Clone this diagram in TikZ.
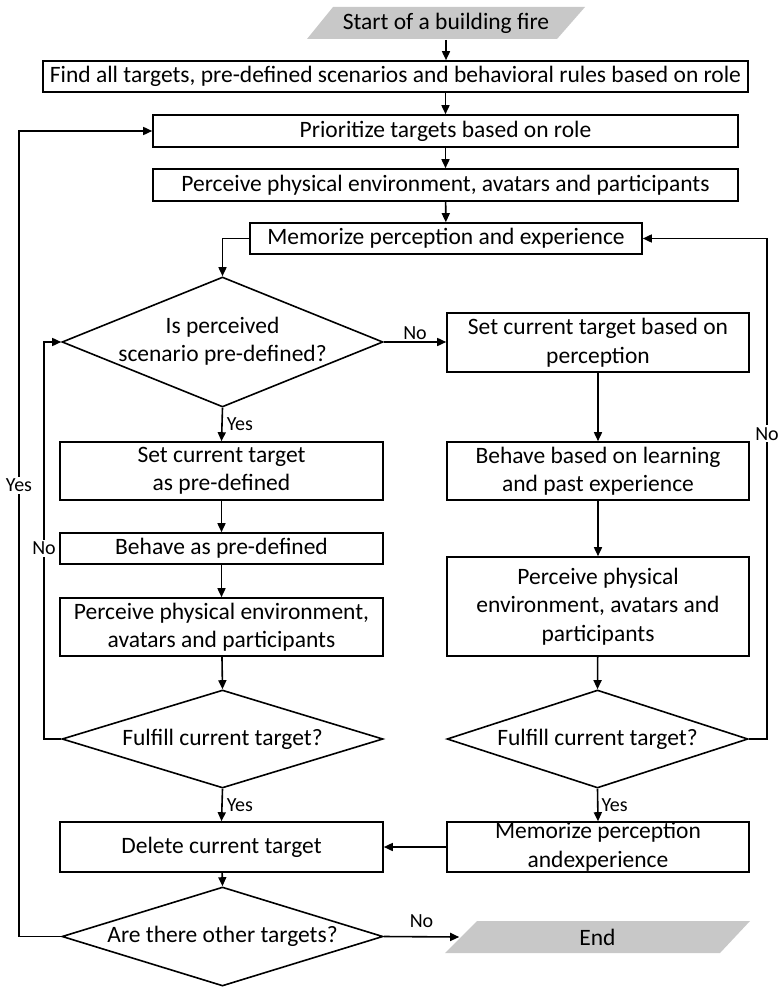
\documentclass[tikz,border=0pt]{standalone}
\usepackage{fontspec}
\setmainfont{Carlito}
\usepackage{tikz}
\usetikzlibrary{arrows.meta, shapes.geometric, positioning}
\definecolor{termgray}{RGB}{200, 200, 200}

\begin{document}
\begin{tikzpicture}[x=1pt, y=-1pt, line width=1.6pt,
    every node/.style={font=\fontsize{23.5}{28.5}\selectfont},
    procbox/.style={draw, rectangle, align=center, inner sep=0pt},
    decision/.style={draw, diamond, inner sep=0pt},
    terminal/.style={rectangle, inner sep=0pt},
    arr/.style={-{Triangle[length=9pt, width=8pt]}},
    lbl/.style={font=\fontsize{20}{24}\selectfont, inner sep=2pt}]
    \useasboundingbox (0,0) rectangle (780,987);

    % Start and the main column
    \fill[termgray] (307, 39) -- (557, 39) -- (585, 7) -- (333, 7) -- cycle;
    \node[terminal, minimum width=252pt, minimum height=32pt] (start) at (446, 23) {Start of a building fire};
    \node[procbox, minimum width=705pt, minimum height=31pt] (find) at (395.5, 76.5)
         {Find all targets, pre-defined scenarios and behavioral rules based on role};
    \node[procbox, minimum width=585pt, minimum height=32pt] (prio) at (445.5, 131) {Prioritize targets based on role};
    \node[procbox, minimum width=585pt, minimum height=32pt] (perc) at (445.5, 185)
         {Perceive physical environment, avatars and participants};
    \node[procbox, minimum width=392pt, minimum height=31pt] (memo) at (446, 238.5) {Memorize perception and experience};

    % Left column (pre-defined scenario)
    \node[decision, minimum width=321pt, minimum height=130pt] (scen) at (222.5, 342) {};
    \node[align=center] (scentxt) at (222.5, 341) {Is perceived\\scenario pre-defined?};
    \node[procbox, minimum width=323pt, minimum height=58pt] (setpre) at (221.5, 471) {Set current target\\as pre-defined};
    \node[procbox, minimum width=323pt, minimum height=31pt] (behpre) at (221.5, 548.5) {Behave as pre-defined};
    \node[procbox, minimum width=323pt, minimum height=58pt] (percl) at (221.5, 627)
         {Perceive physical environment,\\avatars and participants};
    \node[decision, minimum width=321pt, minimum height=98pt] (fulla) at (222.5, 739) {};
    \node (fullatxt) at (222.5, 739) {Fulfill current target?};
    \node[procbox, minimum width=323pt, minimum height=50pt] (del) at (221.5, 847) {Delete current target};
    \node[decision, minimum width=321pt, minimum height=99pt] (other) at (222.5, 936.5) {};
    \node (othertxt) at (222.5, 936) {Are there other targets?};

    % Right column (learning)
    \node[procbox, minimum width=302pt, minimum height=59pt] (setper) at (598, 342.5) {Set current target based on\\perception};
    \node[procbox, minimum width=302pt, minimum height=58pt] (behlearn) at (598, 471) {Behave based on learning\\and past experience};
    \node[procbox, minimum width=302pt, minimum height=99pt] (percr) at (598, 606.5)
         {Perceive physical\\environment, avatars and\\participants};
    \node[decision, minimum width=301pt, minimum height=98pt] (fullb) at (597.5, 739) {};
    \node (fullbtxt) at (597.5, 739) {Fulfill current target?};
    \node[procbox, minimum width=302pt, minimum height=50pt] (memob) at (598, 847) {Memorize perception\\andexperience};
    \fill[termgray] (445, 953) -- (720, 953) -- (750, 921) -- (477, 921) -- cycle;
    \node[terminal, minimum width=275pt, minimum height=32pt] (endn) at (597.5, 937) {End};

    % Loop corners
    \coordinate (noleft) at (44, 739);
    \coordinate (noright) at (767, 739);
    \coordinate (yesleft) at (19, 936.5);

    % Arrows
    \draw[arr] (start.south) -- (start.south |- find.north);
    \draw[arr] (prio.north |- find.south) -- (prio.north);
    \draw[arr] (prio) -- (perc);
    \draw[arr] (perc) -- (memo);
    \draw[arr] (memo.west) -| (scen.north);
    \draw[arr] (scen.east) -- node[lbl, above]{No} (scen.east -| setper.west);
    \draw[arr] (scen.south) -- node[lbl, right=2pt]{Yes} (setpre.north);
    \draw[arr] (setpre) -- (behpre);
    \draw[arr] (behpre) -- (percl);
    \draw[arr] (percl) -- (fulla.north);
    \draw[arr] (fulla.south) -- node[lbl, right=2pt]{Yes} (del.north);
    \draw[arr] (del) -- (other.north);
    \draw[arr] (other.east) -- node[lbl, above=6pt]{No} (endn.west);
    \draw[arr] (setper) -- (behlearn);
    \draw[arr] (behlearn) -- (percr);
    \draw[arr] (percr) -- (fullb.north);
    \draw[arr] (fullb.south) -- node[lbl, right=1pt]{Yes} (memob.north);
    \draw[arr] (memob) -- (del);
    \draw[arr] (fulla.west) -- (noleft) -- node[lbl, fill=white, pos=0.48]{No} (noleft |- scen.west) -- (scen.west);
    \draw[arr] (fullb.east) -- (noright) -- node[lbl, fill=white, pos=0.61]{No} (noright |- memo.east) -- (memo.east);
    \draw[arr] (other.west) -- (yesleft) -- node[lbl, fill=white, pos=0.56]{Yes} (yesleft |- prio.west) -- (prio.west);
\end{tikzpicture}
\end{document}
